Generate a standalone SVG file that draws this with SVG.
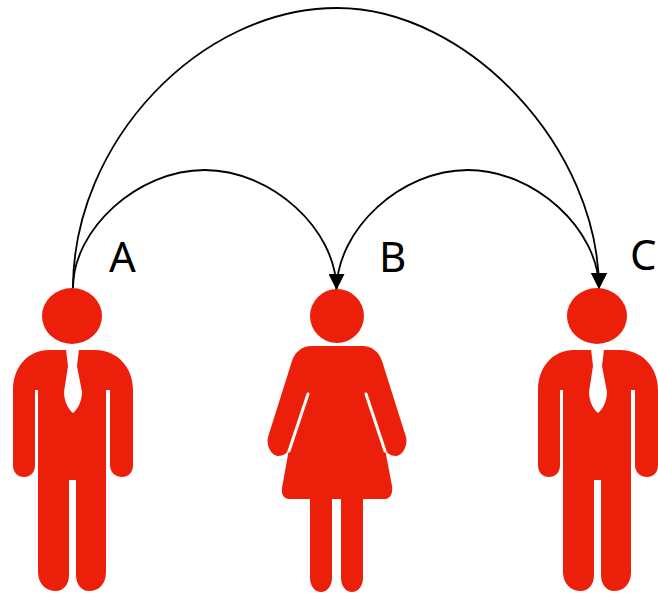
<svg xmlns="http://www.w3.org/2000/svg" width="658" height="595" viewBox="0 0 658 595">
<style>
.fig{fill:#ec1f0a}
.cut{fill:#fff}
.slit{stroke:#fff;stroke-width:3;fill:none;stroke-linecap:round}
.link{fill:none;stroke:#000;stroke-width:1.8}
.lab{font-family:"Noto Sans","Open Sans",sans-serif;font-size:42px;fill:#000}
</style>
<defs>
<marker id="arrow" markerUnits="userSpaceOnUse" markerWidth="16" markerHeight="16" refX="16" refY="8" orient="auto">
<path d="M0 0L16 8L0 16Z" fill="#000"/>
</marker>
<g id="man">
<ellipse class="fig" cx="72" cy="316" rx="30" ry="28"/>
<path class="fig" d="M49 350H95C117 350 133 367 133 390V465C133 473 128 477 122 477C116 477 110 473 110 465V390H106V572C106 584 99 591 89 591C82 591 76 585 76 575V480H69V575C69 585 63 591 56 591C46 591 38 584 38 572V390H35V465C35 473 30 477 24 477C18 477 13 473 13 465V390C13 367 28 350 49 350Z"/>
<path class="cut" d="M66 349H79L77 366L82 392C82 402 77 410 73 413C69 410 64 402 64 392L68 366Z"/>
</g>
</defs>
<g id="connectors">
<path class="link" d="M73 288C73 229 138 170 204.500 170C271 170 336.500 229 336.500 290" marker-end="url(#arrow)"/>
<path class="link" d="M336.500 290C337 229 401 170 468 170C534 170 599 229 599 289" marker-end="url(#arrow)"/>
<path class="link" d="M73 288C73 142 200 8 337 8C468 8 599 148 599 289" marker-end="url(#arrow)"/>
</g>
<g id="node-a"><use href="#man"/><text class="lab" x="109" y="272">A</text></g>
<g id="node-b">
<circle class="fig" cx="337" cy="316" r="27"/>
<path class="fig" d="M312 346H362C372 346 379 352 382 361L406 437C408 445 403 456 396 456C390 456 387 453 385 449L392 486C393 494 390 499 384 499H363V578C363 586 358 592 352 592C346 592 341 586 341 578V499H332V578C332 586 327 592 321 592C315 592 310 586 310 578V499H289C284 499 281 494 282 488L289 449C287 453 284 456 278 456C271 456 266 445 268 437L292 361C295 352 302 346 312 346Z"/>
<path class="slit" d="M308 394L289 451"/>
<path class="slit" d="M366 394L385 451"/>
<text class="lab" x="379" y="272">B</text>
</g>
<g id="node-c"><use href="#man" x="525"/><text class="lab" x="630" y="270">C</text></g>
</svg>
